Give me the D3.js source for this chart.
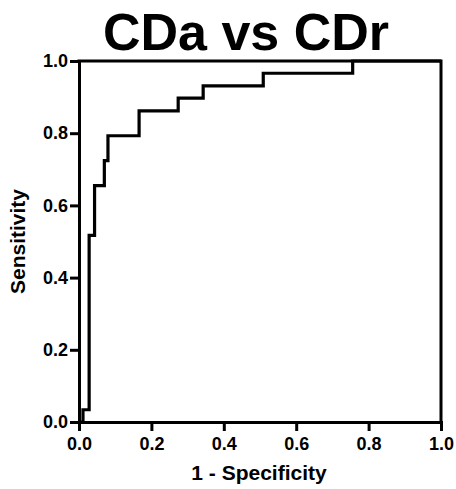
<!DOCTYPE html>
<head>
  <meta charset="utf-8">
  <script src="https://d3js.org/d3.v7.min.js"></script>
  <style>
    body { margin: 0; background: white; }
    text { font-family: "Liberation Sans", Arial, Helvetica, sans-serif; font-weight: bold; fill: black; }
    .axis path, .axis line { fill: none; stroke: black; stroke-width: 3; }
    .axis text { font-size: 18px; }
  </style>
</head>
<body>
  <script>
    // ROC points: 1 - specificity vs sensitivity
    const fpr = [0, 0.011, 0.028, 0.043, 0.070, 0.080, 0.166, 0.274, 0.343, 0.509, 0.756, 1.0];
    const tpr = [0, 0.034, 0.517, 0.655, 0.724, 0.793, 0.862, 0.897, 0.931, 0.966, 1.0, 1.0];
    const tickValues = [0, 0.2, 0.4, 0.6, 0.8, 1.0];

    const titleText = "CDa vs CDr";
    const xTitle = "1 - Specificity";
    const yTitle = "Sensitivity";

    const margin = {top: 61, right: 15, bottom: 67, left: 79},
        width = 456 - margin.left - margin.right,
        height = 489 - margin.top - margin.bottom;

    const svg = d3.select("body").append("svg")
        .attr("width", 456)
        .attr("height", 489);

    const g = svg.append("g")
        .attr("transform", "translate(" + margin.left + "," + margin.top + ")");

    const x = d3.scaleLinear().domain([0, 1]).range([0, width]);
    const y = d3.scaleLinear().domain([0, 1]).range([height, 0]);

    const fmt = d3.format(".1f");

    // frame: top and right sides
    g.append("path")
        .attr("d", "M" + x(0) + "," + y(1) + "H" + x(1) + "V" + y(0))
        .attr("fill", "none")
        .attr("stroke", "black")
        .attr("stroke-width", 3)
        .attr("stroke-linecap", "square");

    g.append("g")
        .attr("class", "axis")
        .attr("transform", "translate(0," + height + ")")
        .call(d3.axisBottom(x).tickValues(tickValues).tickFormat(fmt)
            .tickSize(9).tickSizeOuter(0).tickPadding(6));

    g.append("g")
        .attr("class", "axis")
        .call(d3.axisLeft(y).tickValues(tickValues).tickFormat(fmt)
            .tickSize(9).tickSizeOuter(0).tickPadding(2));

    g.selectAll(".axis .domain").attr("stroke-linecap", "square");

    const pts = fpr.map((f, i) => [f, tpr[i]]);
    const line = d3.line()
        .x(d => x(d[0]))
        .y(d => y(d[1]))
        .curve(d3.curveStepAfter);

    g.append("path")
        .datum(pts)
        .attr("d", line)
        .attr("fill", "none")
        .attr("stroke", "black")
        .attr("stroke-width", 3.2);

    svg.append("text")
        .attr("x", 246)
        .attr("y", 50)
        .attr("text-anchor", "middle")
        .style("font-size", "52px")
        .text(titleText);

    svg.append("text")
        .attr("x", 259)
        .attr("y", 480)
        .attr("text-anchor", "middle")
        .style("font-size", "21px")
        .text(xTitle);

    svg.append("text")
        .attr("transform", "translate(25," + (margin.top + height / 2) + ") rotate(-90)")
        .attr("text-anchor", "middle")
        .style("font-size", "21px")
        .text(yTitle);
  </script>
</body>
